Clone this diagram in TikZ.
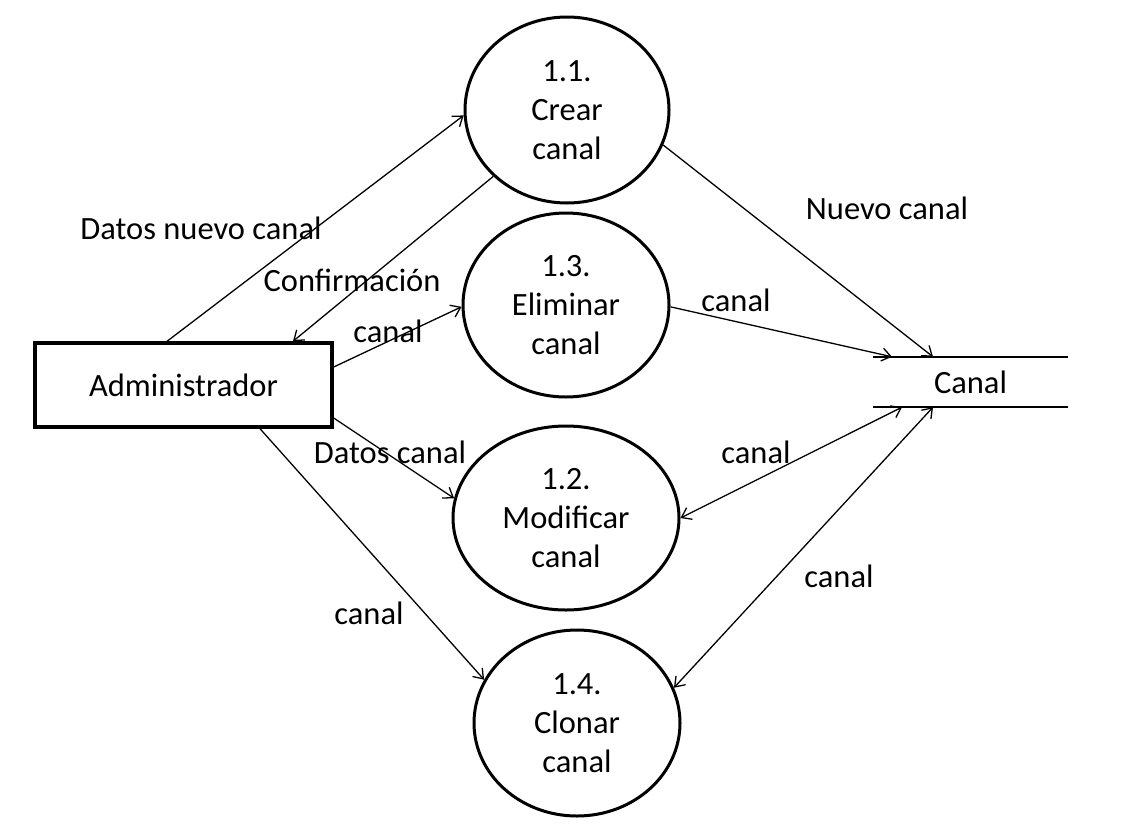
\documentclass[tikz,border=0pt]{standalone}
\usepackage{fontspec}
\setmainfont{Carlito}
\usetikzlibrary{shapes.geometric,arrows.meta}
\begin{document}
\begin{tikzpicture}[x=1pt,y=-1pt,
  every node/.style={font=\fontsize{32.5}{39}\selectfont, text=black},
  process/.style={ellipse, draw, line width=3pt, inner sep=0pt, align=center},
  entity/.style={rectangle, draw, line width=3.4pt, minimum width=297pt, minimum height=84pt},
  store/.style={rectangle, minimum width=195pt, minimum height=50pt},
  flow/.style={line width=1.3pt, -{Straight Barb[length=9pt,width=13pt]}},
  biflow/.style={line width=1.3pt, {Straight Barb[length=9pt,width=13pt]}-{Straight Barb[length=9pt,width=13pt]}},
  lbl/.style={inner sep=0pt}]
\useasboundingbox (0,0) rectangle (1129,825);
\fill[white] (0,0) rectangle (1129,825);

% processes
\node[process, minimum width=204pt, minimum height=186pt] (p11) at (567,110) {1.1.\\Crear\\canal};
\node[process, minimum width=206pt, minimum height=184pt] (p13) at (566,305) {1.3.\\Eliminar\\canal};
\node[process, minimum width=226pt, minimum height=184pt] (p12) at (566,518) {1.2.\\Modificar\\canal};
\node[process, minimum width=206pt, minimum height=186pt] (p14) at (577,723) {1.4.\\Clonar\\canal};

% external entity
\node[entity] (adm) at (183.5,385) {Administrador};

% data store
\node[store] (st) at (970.5,382) {Canal};
\draw[line width=2pt] (st.north west) -- (st.north east);
\draw[line width=2pt] (st.south west) -- (st.south east);

% flows
\draw[flow] ([xshift=-16.5pt]adm.north) -- (p11.183);
\draw[flow] (p11.222) -- ([xshift=109.5pt]adm.north);
\draw[flow] ([yshift=18pt]adm.east) -- (p13.181);
\draw[flow] ([yshift=-33pt]adm.east) -- (p12.170);
\draw[flow] ([xshift=76.5pt]adm.south) -- (p14.155);
\draw[flow] (p11.340) -- ([xshift=-37.5pt]st.north);
\draw[flow] (p13.359) -- ([xshift=-78.5pt]st.north);
\draw[biflow] (p12.0) -- ([xshift=-68.5pt]st.south);
\draw[biflow] (p14.20) -- ([xshift=-37.5pt]st.south);

% flow labels
\node[lbl] (l1) at (201,228) {Datos nuevo canal};
\node[lbl] (l2) at (352,280) {Confirmación};
\node[lbl] (l3) at (388,331) {canal};
\node[lbl] (l4) at (390,452) {Datos canal};
\node[lbl] (l5) at (369,613) {canal};
\node[lbl] (l6) at (887,208) {Nuevo canal};
\node[lbl] (l7) at (736,300) {canal};
\node[lbl] (l8) at (756,452) {canal};
\node[lbl] (l9) at (839,576) {canal};
\end{tikzpicture}
\end{document}
